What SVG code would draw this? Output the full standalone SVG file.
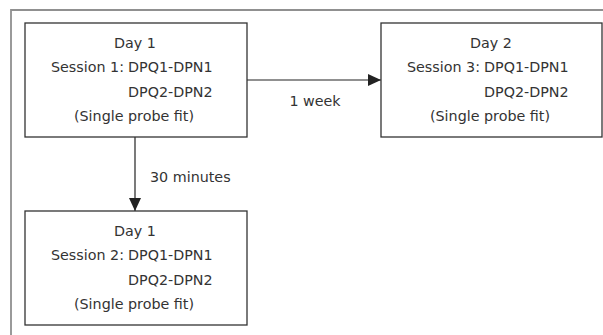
<svg xmlns="http://www.w3.org/2000/svg" width="603" height="335" viewBox="0 0 603 335">
<style>
.box{fill:#fff;stroke:#333;stroke-width:1.3}
.t{font-family:"DejaVu Sans",sans-serif;font-size:14.3px;fill:#333}
.m{text-anchor:middle}
.e{text-anchor:end}
.conn{stroke:#222;stroke-width:1.2;fill:none}
.frame{stroke:#909090;stroke-width:1.8;fill:none}
</style>
<defs>
<marker id="ah" markerWidth="14" markerHeight="12" refX="13" refY="6" orient="auto" markerUnits="userSpaceOnUse">
<path d="M0,0 L13,6 L0,12 z" fill="#222"/>
</marker>
</defs>
<rect width="603" height="335" fill="#fff"/>
<path class="frame" d="M11,335 L11,10 L603,10"/>
<g id="connectors">
<line class="conn" x1="247" y1="80" x2="381" y2="80" marker-end="url(#ah)"/>
<text class="t m" x="315" y="106">1 week</text>
<line class="conn" x1="135" y1="137" x2="135" y2="211" marker-end="url(#ah)"/>
<text class="t" x="150" y="182">30 minutes</text>
</g>
<g id="session1">
<rect class="box" x="25" y="23" width="222" height="114"/>
<text class="t m" x="135" y="48">Day 1</text>
<text class="t"><tspan class="e" x="124" y="72">Session 1:</tspan><tspan x="128" y="72">DPQ1-DPN1</tspan></text>
<text class="t" x="128" y="97">DPQ2-DPN2</text>
<text class="t m" x="134" y="121">(Single probe fit)</text>
</g>
<g id="session3">
<rect class="box" x="381" y="23" width="221" height="114"/>
<text class="t m" x="491" y="48">Day 2</text>
<text class="t"><tspan class="e" x="480" y="72">Session 3:</tspan><tspan x="484" y="72">DPQ1-DPN1</tspan></text>
<text class="t" x="484" y="97">DPQ2-DPN2</text>
<text class="t m" x="490" y="121">(Single probe fit)</text>
</g>
<g id="session2">
<rect class="box" x="25" y="211" width="222" height="114"/>
<text class="t m" x="135" y="236">Day 1</text>
<text class="t"><tspan class="e" x="124" y="260">Session 2:</tspan><tspan x="128" y="260">DPQ1-DPN1</tspan></text>
<text class="t" x="128" y="285">DPQ2-DPN2</text>
<text class="t m" x="134" y="309">(Single probe fit)</text>
</g>
</svg>
